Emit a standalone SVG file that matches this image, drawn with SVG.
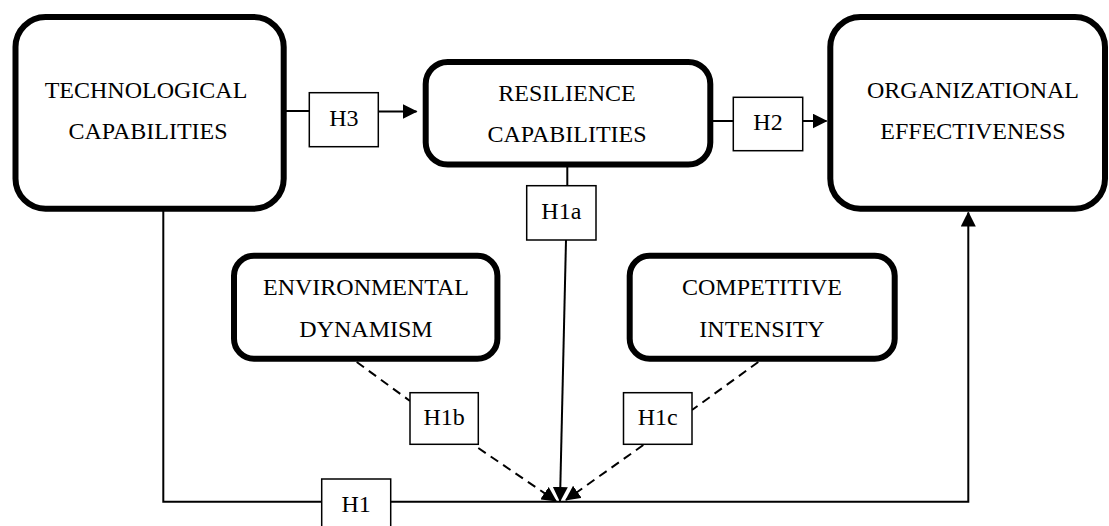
<svg xmlns="http://www.w3.org/2000/svg" width="1109" height="526" viewBox="0 0 1109 526">
  <style>
    .box { fill: #ffffff; stroke: #000000; stroke-width: 6; }
    .lbl { fill: #ffffff; stroke: #000000; stroke-width: 1.5; }
    .t { font-family: "Liberation Serif", "Times New Roman", serif; font-size: 24px; fill: #000000; text-anchor: middle; }
    .ln { fill: none; stroke: #000000; stroke-width: 2; }
    .dash { fill: none; stroke: #000000; stroke-width: 2; stroke-dasharray: 9 6; }
  </style>
  <defs>
    <marker id="arrow" viewBox="0 0 15 15" refX="14" refY="7.5" markerWidth="15" markerHeight="15" markerUnits="userSpaceOnUse" orient="auto">
      <path d="M0,0 L15,7.5 L0,15 z" fill="#000000"/>
    </marker>
  </defs>
  <rect width="1109" height="526" fill="#ffffff"/>

  <g id="connectors">
    <line class="ln" x1="286" y1="111" x2="310" y2="111"/>
    <line class="ln" x1="378" y1="111.5" x2="416.5" y2="111.5" marker-end="url(#arrow)"/>
    <line class="ln" x1="712" y1="121" x2="734" y2="121"/>
    <line class="ln" x1="802" y1="121" x2="826.5" y2="121" marker-end="url(#arrow)"/>
    <line class="ln" x1="567.3" y1="166" x2="567.3" y2="186"/>
    <line class="ln" x1="566" y1="240" x2="560" y2="501" marker-end="url(#arrow)"/>
    <polyline class="ln" points="163.3,211 163.3,501.7 968.3,501.7 968.3,212.5" marker-end="url(#arrow)"/>
    <line class="dash" x1="356.7" y1="362" x2="410" y2="401"/>
    <line class="dash" x1="478.3" y1="448" x2="556" y2="501" marker-end="url(#arrow)"/>
    <line class="dash" x1="758.3" y1="362" x2="692" y2="410"/>
    <line class="dash" x1="643.3" y1="445" x2="566" y2="500" marker-end="url(#arrow)"/>
  </g>

  <g id="technological-capabilities">
    <rect class="box" x="15.5" y="17" width="268.2" height="191.7" rx="30"/>
    <text class="t" x="146" y="97.7">TECHNOLOGICAL</text>
    <text class="t" x="148" y="139.3">CAPABILITIES</text>
  </g>
  <g id="resilience-capabilities">
    <rect class="box" x="425.7" y="62" width="284.6" height="102.5" rx="22"/>
    <text class="t" x="567" y="100.5">RESILIENCE</text>
    <text class="t" x="567" y="141.7">CAPABILITIES</text>
  </g>
  <g id="organizational-effectiveness">
    <rect class="box" x="830.3" y="17" width="274.7" height="191.7" rx="30"/>
    <text class="t" x="973" y="98.3">ORGANIZATIONAL</text>
    <text class="t" x="973" y="139.3">EFFECTIVENESS</text>
  </g>
  <g id="environmental-dynamism">
    <rect class="box" x="234" y="255.7" width="263.4" height="103" rx="20"/>
    <text class="t" x="366" y="295">ENVIRONMENTAL</text>
    <text class="t" x="366" y="336.7">DYNAMISM</text>
  </g>
  <g id="competitive-intensity">
    <rect class="box" x="629.7" y="255.7" width="265" height="103" rx="20"/>
    <text class="t" x="762" y="295">COMPETITIVE</text>
    <text class="t" x="762" y="336.7">INTENSITY</text>
  </g>

  <g id="label-H3">
    <rect class="lbl" x="309.3" y="92.7" width="69" height="54"/>
    <text class="t" x="343.8" y="125.7">H3</text>
  </g>
  <g id="label-H2">
    <rect class="lbl" x="733.3" y="97.3" width="69.4" height="53.4"/>
    <text class="t" x="768" y="130">H2</text>
  </g>
  <g id="label-H1a">
    <rect class="lbl" x="526.7" y="185.7" width="69.3" height="54.3"/>
    <text class="t" x="561.3" y="219">H1a</text>
  </g>
  <g id="label-H1b">
    <rect class="lbl" x="410" y="392.7" width="68.3" height="51.6"/>
    <text class="t" x="444.2" y="425">H1b</text>
  </g>
  <g id="label-H1c">
    <rect class="lbl" x="623.5" y="392.7" width="68.5" height="51.6"/>
    <text class="t" x="657.7" y="425">H1c</text>
  </g>
  <g id="label-H1">
    <rect class="lbl" x="321.7" y="479" width="69" height="54"/>
    <text class="t" x="356.2" y="511.7">H1</text>
  </g>
</svg>
